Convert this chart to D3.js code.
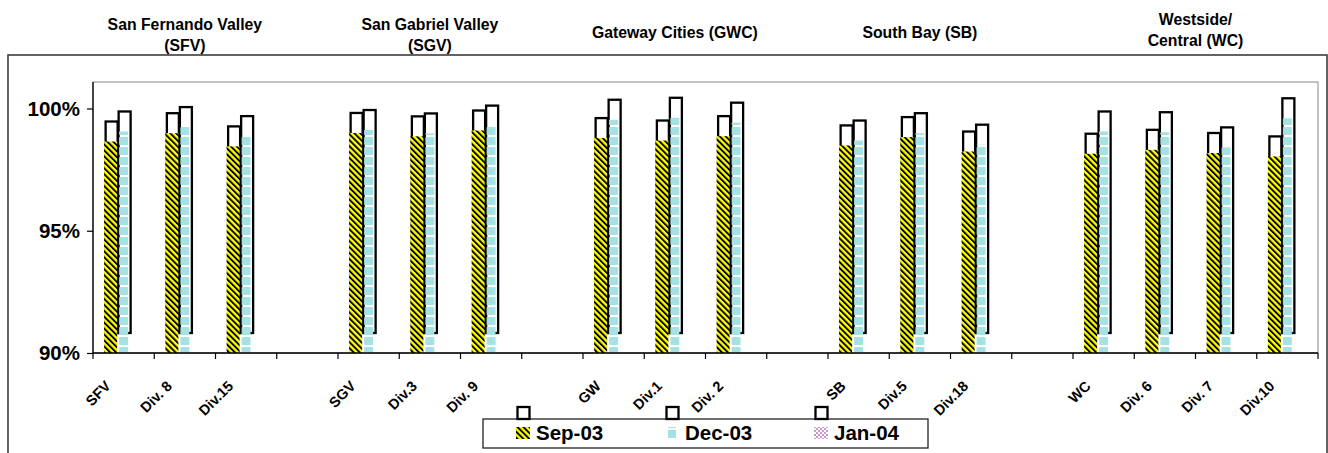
<!DOCTYPE html>
<html>
<head>
<meta charset="utf-8">
<script src="https://cdn.jsdelivr.net/npm/d3@7"></script>
<style>
  html, body { margin: 0; padding: 0; background: #fff; }
  svg { display: block; font-family: Arial, "Liberation Sans", sans-serif; font-weight: bold; }
</style>
</head>
<body>
<svg id="chart" width="1328" height="453"></svg>
<script>
// Division categories; empty strings are spacer slots between regions
const categories = ["SFV", "Div. 8", "Div.15", "",
                    "SGV", "Div.3", "Div. 9", "",
                    "GW", "Div.1", "Div. 2", "",
                    "SB", "Div.5", "Div.18", "",
                    "WC", "Div. 6", "Div. 7", "Div.10"];

// Percent values per period (null = no bar)
const sep03 = [98.65, 98.99, 98.45, null,
               99.00, 98.86, 99.10, null,
               98.79, 98.69, 98.87, null,
               98.49, 98.83, 98.24, null,
               98.15, 98.31, 98.18, 98.04];
const dec03 = [99.06, 99.24, 98.87, null,
               99.12, 98.98, 99.30, null,
               99.54, 99.62, 99.42, null,
               98.69, 98.99, 98.52, null,
               99.06, 99.03, 98.41, 99.60];
const jan04 = [null, null, null, null,
               null, null, null, null,
               null, null, null, null,
               null, null, null, null,
               null, null, null, null];

const seriesNames = ["Sep-03", "Dec-03", "Jan-04"];
const yTicks = [90, 95, 100];

// Region headings: text lines and the category slots they span
const regionNames = [
  ["San Fernando Valley", "(SFV)"],
  ["San Gabriel Valley", "(SGV)"],
  ["Gateway Cities (GWC)"],
  ["South Bay (SB)"],
  ["Westside/", "Central (WC)"]
];
const regionSpans = [[0, 2], [4, 6], [8, 10], [12, 14], [16, 19]];

// ---- layout ----
const plot = { left: 93, right: 1318, top: 82, bottom: 353 };
const shadowDx = 1.5, shadowDy = -20;

const svg = d3.select("#chart");
const defs = svg.append("defs");

const x = d3.scaleBand()
  .domain(d3.range(categories.length))
  .range([plot.left, plot.right])
  .paddingInner(0).paddingOuter(0);
const groupWidth = 39;
const inner = d3.scaleBand().domain(seriesNames).range([0, groupWidth]);
const barX = (i, s) => x(i) + (x.step() - groupWidth) / 2 + inner(s);
const bw = inner.bandwidth();

const y = d3.scaleLinear().domain([90, 100]).range([plot.bottom, 108.5]);

// ---- fill patterns ----
// Sep-03: yellow with black diagonal stripes
const sepPat = defs.append("pattern")
  .attr("id", "sepFill").attr("patternUnits", "userSpaceOnUse")
  .attr("width", 4.2).attr("height", 4.2)
  .attr("patternTransform", "rotate(-45)");
sepPat.append("rect").attr("width", 4.2).attr("height", 4.2).attr("fill", "#ffff00");
sepPat.append("rect").attr("width", 1.9).attr("height", 4.2).attr("fill", "#000");

// Dec-03: light cyan dashes in a column, transparent gaps
const decColor = "#a6e1e3";
const decPat = defs.append("pattern")
  .attr("id", "decFill").attr("patternUnits", "userSpaceOnUse")
  .attr("x", barX(0, "Dec-03")).attr("y", y(90) + 4)
  .attr("width", x.step()).attr("height", 10);
decPat.append("rect").attr("x", 2).attr("y", 0).attr("width", bw - 4).attr("height", 8)
  .attr("rx", 1).attr("fill", decColor);

// Jan-04: lavender checker dots
const janPat = defs.append("pattern")
  .attr("id", "janFill").attr("patternUnits", "userSpaceOnUse")
  .attr("width", 4).attr("height", 4);
janPat.append("rect").attr("x", 0).attr("y", 0).attr("width", 2).attr("height", 2).attr("fill", "#cc99cc");
janPat.append("rect").attr("x", 2).attr("y", 2).attr("width", 2).attr("height", 2).attr("fill", "#cc99cc");

// ---- chart frame ----
svg.append("rect")
  .attr("x", 8).attr("y", 55).attr("width", 1319).attr("height", 420)
  .attr("fill", "#fff").attr("stroke", "#3c3c3c").attr("stroke-width", 1.6);

svg.append("rect")
  .attr("x", plot.left).attr("y", plot.top)
  .attr("width", plot.right - plot.left).attr("height", plot.bottom - plot.top)
  .attr("fill", "#fff").attr("stroke", "#888").attr("stroke-width", 1);

// ---- region headings ----
const headings = svg.append("g").attr("font-size", 15.8).attr("text-anchor", "middle").attr("fill", "#000");
regionNames.forEach((lines, k) => {
  const [a, b] = regionSpans[k];
  const cx = (x(a) + x(b) + x.step()) / 2;
  const baseY = lines.length === 1 ? 38 : (k === 4 ? 25 : 30);
  lines.forEach((t, j) => {
    headings.append("text").attr("x", cx).attr("y", baseY + j * 21).text(t);
  });
});

// ---- offset outline layer ----
const shadow = svg.append("g").attr("transform", `translate(${shadowDx},${shadowDy})`);
[["Sep-03", sep03], ["Dec-03", dec03], ["Jan-04", jan04]].forEach(([name, vals]) => {
  shadow.selectAll(null)
    .data(vals.map((v, i) => ({ v, i })).filter(d => d.v != null))
    .join("rect")
    .attr("x", d => barX(d.i, name))
    .attr("y", d => y(d.v))
    .attr("width", bw - 1)
    .attr("height", d => y(90) - y(d.v))
    .attr("fill", "#fff").attr("stroke", "#000").attr("stroke-width", 2.3);
});

// ---- bars ----
const fills = { "Sep-03": "url(#sepFill)", "Dec-03": "url(#decFill)", "Jan-04": "url(#janFill)" };
[["Sep-03", sep03], ["Dec-03", dec03], ["Jan-04", jan04]].forEach(([name, vals]) => {
  svg.append("g").selectAll("rect")
    .data(vals.map((v, i) => ({ v, i })).filter(d => d.v != null))
    .join("rect")
    .attr("x", d => barX(d.i, name))
    .attr("y", d => y(d.v))
    .attr("width", bw)
    .attr("height", d => y(90) - y(d.v))
    .attr("fill", fills[name]);
});

// ---- axes ----
const yAxis = svg.append("g")
  .attr("transform", `translate(${plot.left},0)`)
  .call(d3.axisLeft(y).tickValues(yTicks).tickFormat(d => d + "%")
    .tickSize(6).tickSizeOuter(0).tickPadding(7));
yAxis.select(".domain").remove();
yAxis.selectAll("line").attr("stroke", "#000").attr("stroke-width", 1.2);
yAxis.selectAll("text").attr("font-size", 20.5).attr("font-weight", "bold")
  .attr("font-family", "Arial, 'Liberation Sans', sans-serif").attr("fill", "#000");

svg.append("line")
  .attr("x1", plot.left).attr("x2", plot.left)
  .attr("y1", plot.top).attr("y2", plot.bottom)
  .attr("stroke", "#000").attr("stroke-width", 1.3);

svg.append("line")
  .attr("x1", plot.left).attr("x2", plot.right)
  .attr("y1", y(90)).attr("y2", y(90))
  .attr("stroke", "#000").attr("stroke-width", 1.5);

// category boundary ticks
svg.append("g").selectAll("line")
  .data(d3.range(categories.length + 1))
  .join("line")
  .attr("x1", i => plot.left + i * x.step())
  .attr("x2", i => plot.left + i * x.step())
  .attr("y1", y(90)).attr("y2", y(90) + 6)
  .attr("stroke", "#000").attr("stroke-width", 1.2);

// category labels, slanted 45 degrees
svg.append("g").selectAll("text")
  .data(categories.map((c, i) => ({ c, i })).filter(d => d.c !== ""))
  .join("text")
  .attr("x", d => x(d.i) + x.step() / 2 - 12)
  .attr("y", 387)
  .attr("transform", d => `rotate(-45 ${x(d.i) + x.step() / 2 - 12} 387)`)
  .attr("text-anchor", "end")
  .attr("font-size", 14.5)
  .attr("fill", "#000")
  .text(d => d.c);

// ---- legend ----
const legend = { x: 483, y: 419, w: 445, h: 29 };
svg.append("rect")
  .attr("x", legend.x).attr("y", legend.y).attr("width", legend.w).attr("height", legend.h)
  .attr("fill", "#fff").attr("stroke", "#222").attr("stroke-width", 1.3);

const keyStep = 149;
seriesNames.forEach((name, k) => {
  const tx = legend.x + 53 + k * keyStep;
  const ix = tx - 20, iy = legend.y + 8;
  // outline key of the offset layer
  svg.append("rect")
    .attr("x", ix + shadowDx).attr("y", iy + shadowDy)
    .attr("width", 12).attr("height", 12)
    .attr("fill", "#fff").attr("stroke", "#000").attr("stroke-width", 2.3);
  if (name === "Dec-03") {
    const kp = defs.append("pattern")
      .attr("id", "decKey").attr("patternUnits", "userSpaceOnUse")
      .attr("x", ix).attr("y", iy - 7).attr("width", 14).attr("height", 10);
    kp.append("rect").attr("x", 3).attr("y", 0).attr("width", 8).attr("height", 8).attr("fill", decColor);
  }
  svg.append("rect")
    .attr("x", ix).attr("y", iy).attr("width", 14).attr("height", 12)
    .attr("fill", name === "Dec-03" ? "url(#decKey)" : fills[name]);
  svg.append("text")
    .attr("x", tx).attr("y", legend.y + 21)
    .attr("font-size", 20.5).attr("fill", "#000")
    .text(name);
});
</script>
</body>
</html>
